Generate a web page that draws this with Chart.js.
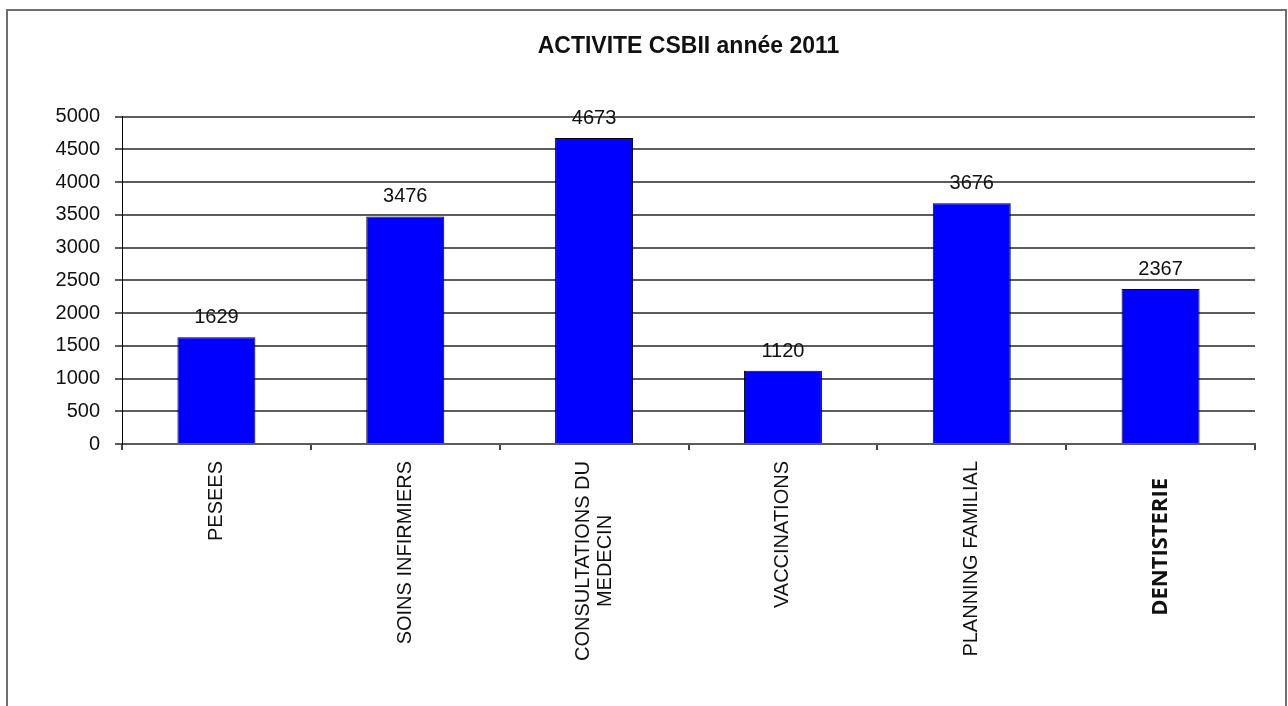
<!DOCTYPE html>
<html>
<head>
<meta charset="utf-8">
<script src="https://cdn.jsdelivr.net/npm/chart.js@4.4.1/dist/chart.umd.min.js"></script>
<style>
  html, body { margin: 0; padding: 0; background: #fff; overflow: hidden; }
  #cadre { position: absolute; left: 6px; top: 9px; width: 1281px; height: 760px; border: 2px solid #6e6e6e; box-sizing: border-box; }
  canvas { position: absolute; left: 0; top: 0; }
</style>
</head>
<body>
<div id="cadre"></div>
<canvas id="graphique" width="1288" height="706"></canvas>
<script>
// données
const categories = ['PESEES', 'SOINS INFIRMIERS', ['CONSULTATIONS DU', 'MEDECIN'], 'VACCINATIONS', 'PLANNING FAMILIAL', 'DENTISTERIE']
const activite = [1629, 3476, 4673, 1120, 3676, 2367]
const graduations = [0, 500, 1000, 1500, 2000, 2500, 3000, 3500, 4000, 4500, 5000]
const titre = 'ACTIVITE CSBII année 2011'

const police = '"Liberation Sans", Arial, sans-serif'

// valeurs au-dessus des barres + libellés verticaux de l'axe x
const etiquettes = {
  id: 'etiquettes',
  afterDatasetsDraw(chart) {
    const ctx = chart.ctx
    const meta = chart.getDatasetMeta(0)
    ctx.save()
    ctx.font = '20px ' + police
    ctx.fillStyle = '#111'
    ctx.textAlign = 'center'
    ctx.textBaseline = 'alphabetic'
    meta.data.forEach((barre, i) => {
      ctx.fillText(String(activite[i]), barre.x, barre.y - 14)
    })
    ctx.restore()
  },
  afterDraw(chart) {
    const ctx = chart.ctx
    const xs = chart.scales.x
    const haut = chart.chartArea.bottom + 17
    categories.forEach((lib, i) => {
      const lignes = Array.isArray(lib) ? lib : [lib]
      const gras = i === 5
      ctx.save()
      ctx.font = gras ? 'bold 22px "Open Sans", sans-serif' : '20px ' + police
      ctx.fillStyle = '#111'
      const larg = lignes.map(l => ctx.measureText(l).width)
      const maxL = Math.max(...larg)
      const cx = xs.getPixelForValue(i)
      lignes.forEach((l, k) => {
        const x = cx + (k - (lignes.length - 1) / 2) * 22
        const y = haut + (gras ? 17 : 0) + (maxL - larg[k]) / 2
        ctx.save()
        ctx.translate(x, y)
        ctx.rotate(-Math.PI / 2)
        ctx.textAlign = 'right'
        ctx.textBaseline = 'middle'
        ctx.fillText(l, 0, 0)
        ctx.restore()
      })
      ctx.restore()
    })
  }
}

new Chart(document.getElementById('graphique'), {
  type: 'bar',
  data: {
    labels: categories,
    datasets: [{
      data: activite,
      backgroundColor: '#0000ff',
      borderColor: '#000',
      borderWidth: 1,
      barPercentage: 0.413,
      categoryPercentage: 1
    }]
  },
  options: {
    responsive: false,
    animation: false,
    layout: { padding: { left: 0, right: 33, top: 0, bottom: 0 } },
    plugins: {
      legend: { display: false },
      tooltip: { enabled: false },
      title: {
        display: true,
        text: titre,
        fullSize: false,
        color: '#111',
        font: { family: police, size: 23, weight: 'bold' },
        padding: { top: 33, bottom: 56 }
      }
    },
    scales: {
      x: {
        ticks: { display: false },
        grid: { display: true, drawOnChartArea: false, drawTicks: true, tickLength: 6, color: '#444', lineWidth: 2 },
        border: { display: true, color: '#5c5c5c', width: 2 },
        afterFit(scale) { scale.height = 262 }
      },
      y: {
        min: 0,
        max: 5000,
        afterBuildTicks(scale) { scale.ticks = graduations.map(v => ({ value: v })) },
        ticks: { color: '#111', font: { family: police, size: 20 }, padding: 15, callback: v => String(v) },
        grid: { color: '#5c5c5c', lineWidth: 2, tickLength: 7 },
        border: { display: true, color: '#000', width: 1 },
        afterFit(scale) { scale.width = 122 }
      }
    }
  },
  plugins: [etiquettes]
})
</script>
</body>
</html>
